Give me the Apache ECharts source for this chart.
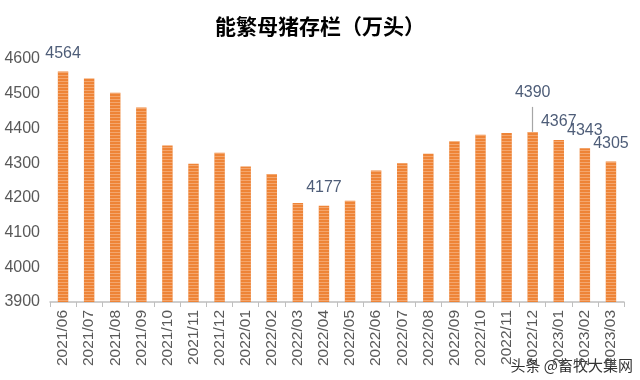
<!DOCTYPE html>
<html><head><meta charset="utf-8">
<script src="https://cdn.jsdelivr.net/npm/echarts@6/dist/echarts.min.js"></script>
<style>html,body{margin:0;padding:0;background:#fff}#c{width:640px;height:380px}</style>
</head><body><div id="c"></div>
<script>
const categories = ['2021/06','2021/07','2021/08','2021/09','2021/10','2021/11','2021/12','2022/01','2022/02','2022/03','2022/04','2022/05','2022/06','2022/07','2022/08','2022/09','2022/10','2022/11','2022/12','2023/01','2023/02','2023/03'];
const values = [4564,4544,4503,4460,4351,4298,4330,4290,4269,4185,4177,4192,4279,4300,4327,4363,4382,4387,4390,4367,4343,4305];
const labeledIdx = [0,10,19,20,21];
const leaderIdx = 18;
const yTicks = [3900,4000,4100,4200,4300,4400,4500,4600];

const chart = echarts.init(document.getElementById('c'), null, {renderer:'canvas'});
const data = values.map((v,i)=>{
  const o = {value:v};
  if (labeledIdx.includes(i)) o.label = {show:true};
  if (i === leaderIdx) o.label = {show:true, distance:31};
  return o;
});
chart.setOption({
  animation:false,
  title:{text:'能繁母猪存栏（万头）', left:'center', top:11,
    textStyle:{fontSize:21, fontWeight:'bold', color:'#000', fontFamily:'Noto Sans CJK SC'}},
  grid:{left:50, right:16, top:59, bottom:78},
  xAxis:{type:'category', data:categories,
    axisLine:{lineStyle:{color:'#BFBFBF', width:1.5}},
    axisTick:{show:true, length:5, lineStyle:{color:'#BFBFBF'}},
    axisLabel:{rotate:90, color:'#595959', fontSize:15.5, margin:8, fontFamily:'Liberation Sans'}},
  yAxis:{type:'value', min:yTicks[0], max:yTicks[yTicks.length-1], interval:100,
    splitLine:{show:false}, axisLine:{show:false}, axisTick:{show:false},
    axisLabel:{color:'#595959', fontSize:16, margin:10, fontFamily:'Liberation Sans', formatter:v=>String(v)}},
  series:[{type:'bar', data:data, barWidth:'40%',
    itemStyle:{color:'#EE8437',
      decal:{symbol:'rect', symbolSize:1, dashArrayX:[1,0], dashArrayY:[1,2], color:'rgba(255,230,210,0.35)', rotation:0}},
    label:{show:false, position:'top', distance:10, color:'#4E5D78', fontSize:16, fontFamily:'Liberation Sans'},
    markLine:{symbol:'none', silent:true, label:{show:false},
      lineStyle:{color:'#A6A6A6', width:1.2, type:'solid'},
      data:[[{coord:[categories[leaderIdx], values[leaderIdx]]},{coord:[categories[leaderIdx], values[leaderIdx]+72]}]]}
  }],
  graphic:[{type:'text', right:6, bottom:6,
    style:{text:'头条 @畜牧大集网', fontSize:15, fill:'#333', stroke:'#fff', lineWidth:2, fontFamily:'Noto Sans CJK SC'}}]
});
</script></body></html>
